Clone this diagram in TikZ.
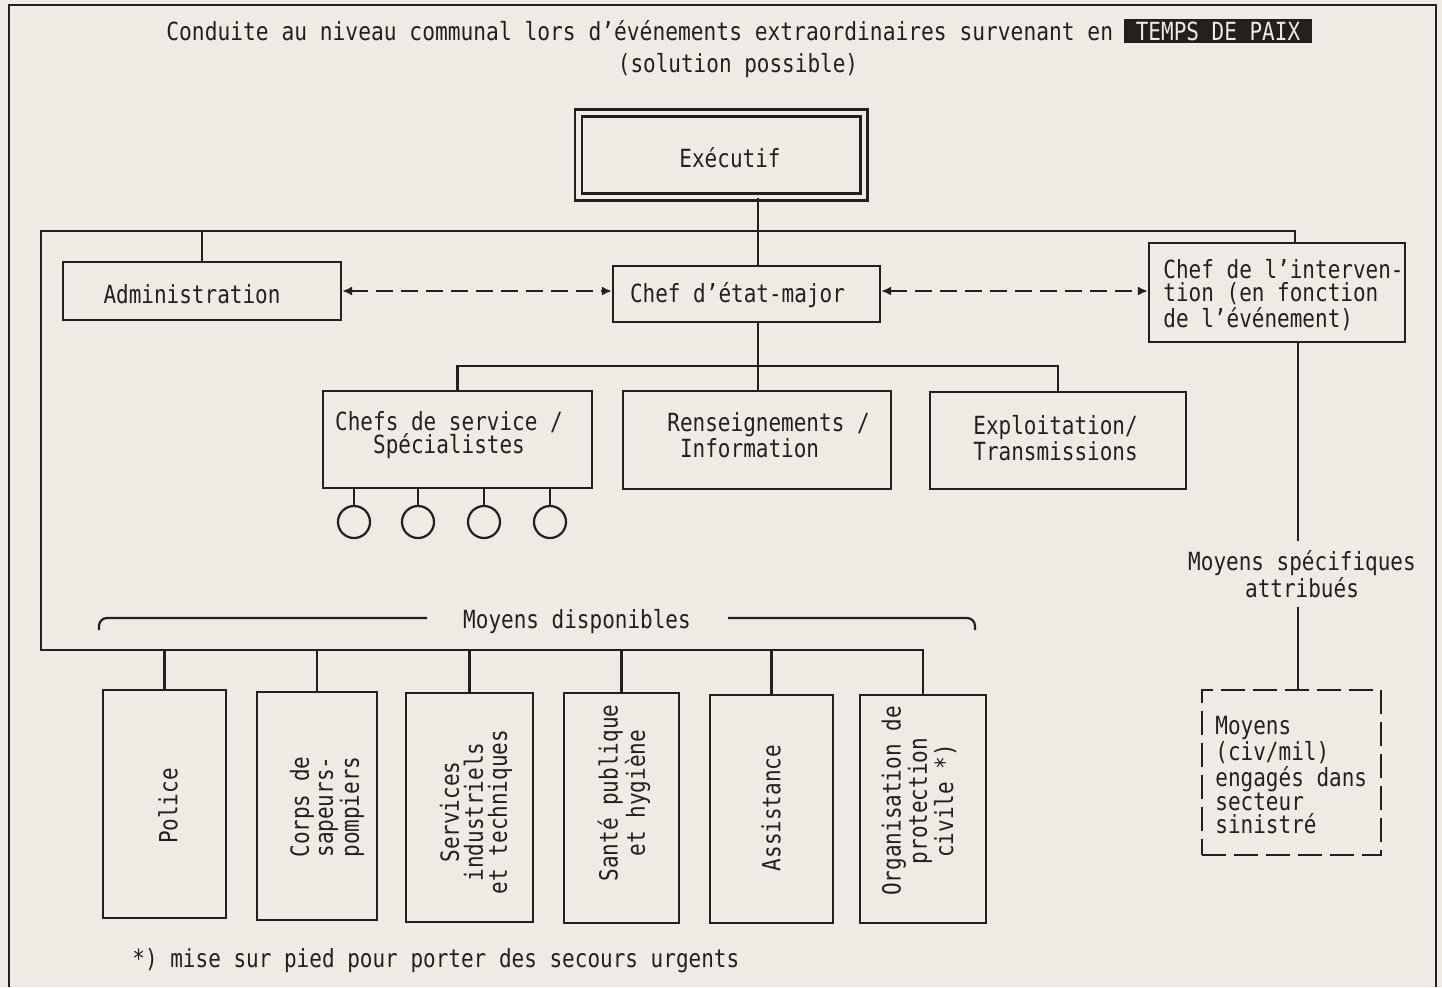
\documentclass[tikz,border=0pt]{standalone}
\usepackage{fontspec}
\newfontfamily\dm[FakeStretch=0.84]{DejaVu Sans Mono}
\newfontfamily\dmt[FakeStretch=0.85]{DejaVu Sans Mono}
\usetikzlibrary{arrows.meta}
\definecolor{ink}{RGB}{38,30,30}
\definecolor{paper}{RGB}{237,235,228}
\tikzset{
  lab/.style={font=\dm\fontsize{12.5}{11.5}\selectfont, inner sep=0pt, text=ink},
  box/.style={draw=ink, line width=1.1pt, inner sep=0pt},
  wire/.style={draw=ink, line width=1.1pt},
  dar/.style={wire, dash pattern=on 8.5pt off 4pt, {Latex[length=5pt,width=4.5pt]}-{Latex[length=5pt,width=4.5pt]}},
  vlab/.style={lab, rotate=90, align=center, font=\dm\fontsize{12.5}{12}\selectfont},
  circ/.style={draw=ink, line width=1.1pt, circle, minimum size=16pt, inner sep=0pt},
}
\begin{document}
\begin{tikzpicture}[x=0.5pt,y=-0.5pt]
\fill[paper] (0,0) rectangle (1442,987);
\useasboundingbox (0,0) rectangle (1442,987);
% frame
\draw[ink, line width=0.8pt] (9,987) -- (9,5) -- (1436,5) -- (1436,987);
% title
\node[lab, anchor=base west, font=\dmt\fontsize{12.5}{11.5}\selectfont] (t1) at (166,40) {Conduite au niveau communal lors d’événements extraordinaires survenant en};
\node[lab, fill=ink, text=paper, minimum width=94pt, minimum height=12pt] (tp) at (1218,31) {TEMPS DE PAIX};
\node[lab, anchor=base] (t2) at (738,72) {(solution possible)};
% boxes
\node[box, double=paper, double distance=2.3pt, line width=1.2pt, minimum width=142.75pt, minimum height=42pt] (exe) at (721.25,155) {};
\node[lab] (exet) at (730,158) {Exécutif};
\node[box, minimum width=139pt, minimum height=29pt] (adm) at (202,291) {};
\node[lab] (admt) at (192,294) {Administration};
\node[box, minimum width=133.5pt, minimum height=28pt] (cem) at (746.5,294) {};
\node[lab] (cemt) at (737.5,295) {Chef d’état-major};
\node[box, minimum width=128pt, minimum height=49.5pt] (int) at (1277,292.5) {};
\node[lab, anchor=west, align=left] (intt) at (1163,295) {Chef de l’interven-\\tion (en fonction\\de l’événement)};
\node[box, minimum width=134.5pt, minimum height=48.5pt] (chs) at (457.5,439.5) {};
\node[lab, align=center] (chst) at (449,435) {Chefs de service /\\Spécialistes};
\node[box, minimum width=134pt, minimum height=49pt] (ren) at (757,440) {};
\node[lab, anchor=west, align=left] (rent) at (667,435) {Renseignements /\\\phantom{I}Information};
\node[box, minimum width=128pt, minimum height=48.5pt] (exp) at (1058,440.5) {};
\node[lab, anchor=west, align=left] (expt) at (973,438) {Exploitation/\\Transmissions};
\node[circ] (c1) at (354,522) {};
\node[circ] (c2) at (418,522) {};
\node[circ] (c3) at (484,522) {};
\node[circ] (c4) at (550,522) {};
% moyens specifiques
\node[lab, align=center, inner ysep=4.5pt] (msa) at (1302,574) {Moyens spécifiques\\attribués};
\node[box, dash pattern=on 12pt off 4pt, minimum width=89.5pt, minimum height=82.5pt] (mdb) at (1291.5,772.5) {};
\node[lab, anchor=west, align=left, font=\dm\fontsize{12.5}{11.25}\selectfont] (mdbt) at (1215,775) {Moyens\\(civ/mil)\\engagés dans\\secteur\\sinistré};
% moyens disponibles
\node[lab] (md) at (577,622) {Moyens disponibles};
\draw[wire, rounded corners=4pt] (99,630) -- (99,618) -- (427,618);
\draw[wire, rounded corners=4pt] (728,618) -- (975,618) -- (975,630);
\node[box, minimum width=61.5pt, minimum height=114pt] (pol) at (164.5,804) {};
\node[box, minimum width=60pt, minimum height=114pt] (cor) at (317,806) {};
\node[box, minimum width=63.5pt, minimum height=114.5pt] (ser) at (469.5,807.5) {};
\node[box, minimum width=57.5pt, minimum height=115pt] (san) at (621.5,808) {};
\node[box, minimum width=61.5pt, minimum height=114pt] (ass) at (771.5,809) {};
\node[box, minimum width=63pt, minimum height=114pt] (org) at (923,809) {};
\node[vlab] (polt) at (168,806) {Police};
\node[vlab] (cort) at (327,807) {Corps de\\sapeurs-\\pompiers};
\node[vlab] (sert) at (476,812) {Services\\industriels\\et techniques};
\node[vlab] (sant) at (624,793) {Santé publique\\et hygiène};
\node[vlab] (asst) at (771,808) {Assistance};
\node[vlab] (orgt) at (919,801) {Organisation de\\protection\\civile *)};
\node[lab, anchor=base west] (fn) at (132,967) {*) mise sur pied pour porter des secours urgents};
% connectors
\coordinate (tbl) at (41,231);
\coordinate (tbr) at (1295,231);
\coordinate (emx) at (758,231);
\coordinate (bbl) at (41,650);
\coordinate (sbx) at (758,366);
\coordinate (msx) at (1298,0);
\draw[wire] (int.north -| tbr) -- (tbr) -- (tbl) -- (bbl) -- (bbl -| org.north) -- (org.north);
\draw[wire] (adm.north |- tbl) -- (adm.north);
\draw[wire] (exe.south -| emx) -- (cem.north -| emx);
\draw[wire] (cem.south -| emx) -- (sbx) -- (ren.north -| sbx);
\draw[wire] (chs.north) -- (chs.north |- sbx) -- (exp.north |- sbx) -- (exp.north);
\foreach \c in {c1,c2,c3,c4} \draw[wire] (\c.north |- chs.south) -- (\c.north);
\foreach \b in {pol,cor,ser,san,ass} \draw[wire] (\b.north |- bbl) -- (\b.north);
\draw[wire] (int.south -| msx) -- (msa.north -| msx);
\draw[wire] (msa.south -| msx) -- (mdb.north -| msx);
\draw[dar] (adm.east) -- (adm.east -| cem.west);
\draw[dar] (adm.east -| cem.east) -- (adm.east -| int.west);
\end{tikzpicture}
\end{document}
